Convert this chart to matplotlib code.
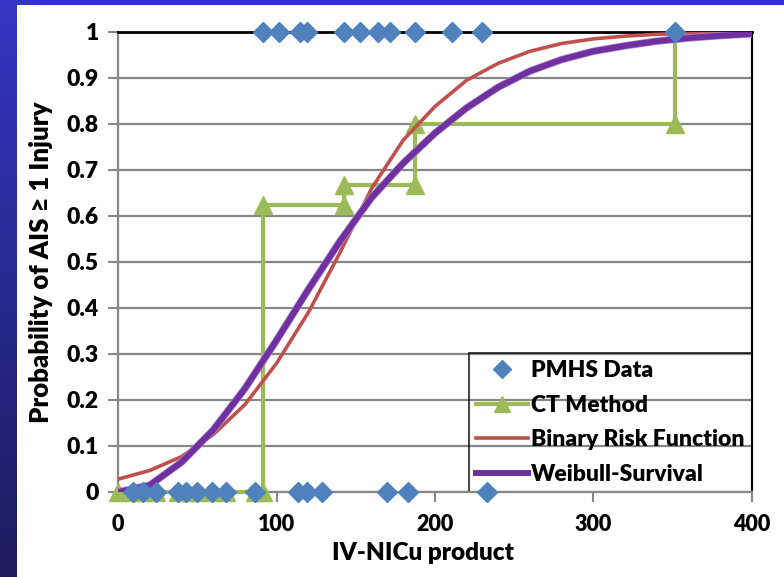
import numpy as np
import matplotlib.pyplot as plt
from matplotlib.colors import LinearSegmentedColormap
from matplotlib.patches import Rectangle

# PMHS test points (injured at 1, not injured at 0)
pmhs_injured_x = [91.5, 101.5, 114.8, 119.2, 142.6, 152.7, 164.0, 171.6, 187.4, 210.7, 229.7, 351.4]
pmhs_uninjured_x = [9.5, 15.8, 24.0, 38.0, 43.0, 50.0, 59.5, 68.0, 86.5, 113.5, 119.0, 128.7, 169.7, 183.0, 232.8]

# CT method step function
ct_x = [0, 9.5, 15.8, 24.0, 38.0, 43.0, 50.0, 59.5, 68.0, 86.5, 91.5,
        91.5, 142.6, 142.6, 187.4, 187.4, 351.4, 351.4]
ct_y = [0, 0, 0, 0, 0, 0, 0, 0, 0, 0, 0,
        0.625, 0.625, 0.667, 0.667, 0.8, 0.8, 1.0]

# fitted curves
curve_x = [0, 20, 40, 60, 80, 100, 120, 140, 160, 180, 200,
           220, 240, 260, 280, 300, 320, 340, 360, 380, 400]
binary_y = [0.028, 0.047, 0.077, 0.125, 0.19, 0.28, 0.39, 0.52, 0.66, 0.765, 0.838,
            0.895, 0.932, 0.958, 0.975, 0.985, 0.991, 0.995, 0.997, 0.998, 0.999]
weibull_y = [0.0, 0.015, 0.065, 0.135, 0.225, 0.33, 0.44, 0.545, 0.64, 0.715, 0.78,
             0.835, 0.88, 0.915, 0.94, 0.958, 0.97, 0.98, 0.987, 0.992, 0.996]

y_ticks = [0, 0.1, 0.2, 0.3, 0.4, 0.5, 0.6, 0.7, 0.8, 0.9, 1]
x_ticks = [0, 100, 200, 300, 400]

plt.rcParams['font.family'] = ['Lato', 'DejaVu Sans']
plt.rcParams['font.weight'] = 'heavy'

fig = plt.figure(figsize=(7.84, 5.77), dpi=100)

# slide background: blue gradient strip on the left/top, white panel
bg = fig.add_axes([0, 0, 1, 1])
grad = np.linspace(1, 0, 256).reshape(-1, 1)
cmap = LinearSegmentedColormap.from_list('slide', ['#1c1c5c', '#3535c4'])
bg.imshow(grad, aspect='auto', extent=[0, 1, 0, 1], cmap=cmap)
bg.add_patch(Rectangle((17 / 784, 0), 1, 1 - 5 / 577, facecolor='white', edgecolor='none'))
bg.set_xlim(0, 1)
bg.set_ylim(0, 1)
bg.axis('off')

ax = fig.add_axes([118.3 / 784, 1 - 492 / 577, 633.2 / 784, 460 / 577])
ax.set_facecolor('none')

ax.plot(ct_x, ct_y, color='#9bbb59', linewidth=3, marker='^', markersize=13,
        label='CT Method', zorder=3, clip_on=False)
ax.plot(curve_x, binary_y, color='#c0504d', linewidth=2.6, label='Binary Risk Function', zorder=4)
ax.plot(curve_x, weibull_y, color='#a98bc9', linewidth=5.4, zorder=4.5)
ax.plot(curve_x, weibull_y, color='#7030a0', linewidth=4.3, label='Weibull-Survival', zorder=4.6)
ax.plot(pmhs_injured_x, [1] * len(pmhs_injured_x), 'D', color='#4f81bd', markersize=10,
        linestyle='none', label='PMHS Data', zorder=6, clip_on=False)
ax.plot(pmhs_uninjured_x, [0] * len(pmhs_uninjured_x), 'D', color='#4f81bd', markersize=10,
        linestyle='none', zorder=6, clip_on=False)

ax.set_xlim(0, 400)
ax.set_ylim(0, 1)
ax.set_xticks(x_ticks)
ax.set_yticks(y_ticks)
ax.set_yticklabels([f'{v:g}' for v in y_ticks])
ax.yaxis.grid(True, color='#878787', linewidth=1.6)
ax.set_axisbelow(True)

for side in ['left', 'bottom']:
    ax.spines[side].set_color('#878787')
    ax.spines[side].set_linewidth(1.6)
ax.spines['top'].set_color('black')
ax.spines['top'].set_linewidth(2)
ax.spines['right'].set_color('black')
ax.spines['right'].set_linewidth(1.5)

ax.tick_params(axis='both', color='#878787', width=1.5, length=7)
ax.tick_params(axis='y', pad=7, labelsize=16.5)
ax.tick_params(axis='x', pad=9, labelsize=15.5)

ax.set_xlabel('IV-NICu product', fontsize=17.5, fontweight='heavy')
ax.set_ylabel('Probability of AIS \u2265 1 Injury', fontsize=18.5, fontweight='heavy')
ax.xaxis.set_label_coords(0.481, -0.108)
ax.yaxis.set_label_coords(-0.103, 0.5)

handles, labels = ax.get_legend_handles_labels()
order = [labels.index(n) for n in ['PMHS Data', 'CT Method', 'Binary Risk Function', 'Weibull-Survival']]
leg = ax.legend([handles[i] for i in order], [labels[i] for i in order],
                loc='lower right', bbox_to_anchor=(1, 0), borderaxespad=0,
                fontsize=16.5, frameon=True, fancybox=False, handlelength=2.3,
                handletextpad=0.12, labelspacing=0.6, borderpad=0.3, markerscale=0.9)
leg.get_frame().set_edgecolor('black')
leg.get_frame().set_linewidth(1.3)
leg.get_frame().set_facecolor('none')
leg.set_zorder(2)

plt.savefig('out.png', dpi=100)
